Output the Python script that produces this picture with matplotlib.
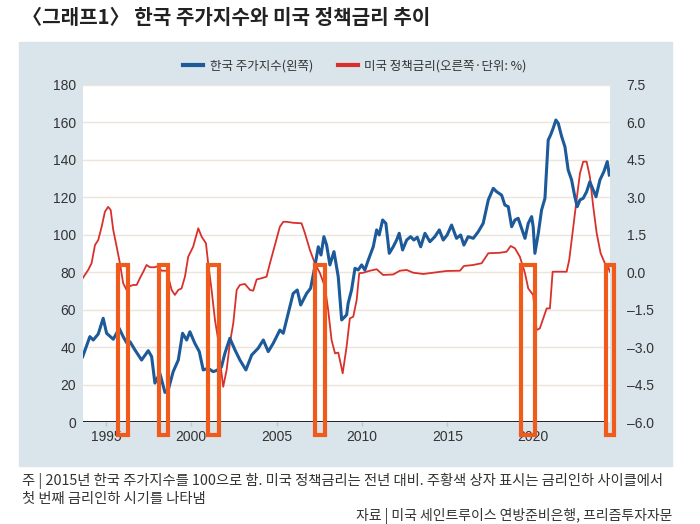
import matplotlib
matplotlib.use("Agg")
import matplotlib.pyplot as plt
from matplotlib.patches import Rectangle
from matplotlib.lines import Line2D

plt.rcParams['font.family'] = ['Noto Sans CJK KR', 'DejaVu Sans']

# 한국 주가지수 (2015년 = 100), 왼쪽 축
kospi_year = [1993.64, 1994.06, 1994.26, 1994.55, 1994.84, 1995.04, 1995.43, 1995.78,
              1996.01, 1996.21, 1996.41, 1996.70, 1997.09, 1997.48, 1997.68, 1997.87,
              1998.16, 1998.46, 1998.65, 1998.94, 1999.24, 1999.49, 1999.73, 1999.92,
              2000.21, 2000.47, 2000.70, 2000.99, 2001.28, 2001.48, 2001.77, 2001.97,
              2002.26, 2002.56, 2002.85, 2003.20, 2003.54, 2003.92, 2004.22, 2004.51,
              2004.80, 2005.19, 2005.39, 2005.68, 2005.97, 2006.21, 2006.41, 2006.76,
              2006.99, 2007.24, 2007.44, 2007.60, 2007.77, 2007.93, 2008.12, 2008.36,
              2008.61, 2008.81, 2009.10, 2009.19, 2009.39, 2009.59, 2009.78, 2009.98,
              2010.17, 2010.37, 2010.66, 2010.86, 2011.01, 2011.21, 2011.40, 2011.60,
              2011.83, 2012.03, 2012.18, 2012.38, 2012.62, 2012.85, 2013.04, 2013.24,
              2013.44, 2013.69, 2013.98, 2014.27, 2014.53, 2014.76, 2014.99, 2015.25,
              2015.54, 2015.78, 2015.97, 2016.22, 2016.52, 2016.81, 2017.10, 2017.40,
              2017.69, 2017.89, 2018.18, 2018.37, 2018.57, 2018.77, 2018.96, 2019.15,
              2019.35, 2019.55, 2019.74, 2019.94, 2020.03, 2020.13, 2020.33, 2020.52,
              2020.72, 2020.91, 2021.05, 2021.20, 2021.36, 2021.50, 2021.70, 2021.89,
              2022.08, 2022.28, 2022.47, 2022.61, 2022.77, 2022.96, 2023.16, 2023.35,
              2023.55, 2023.71, 2023.94, 2024.17, 2024.37, 2024.49]
kospi = [34.9, 45.6, 43.8, 47.0, 55.4, 47.4, 44.2, 50.0,
         45.6, 42.4, 42.9, 38.5, 33.1, 38.1, 34.9, 20.8,
         26.0, 15.8, 17.1, 26.9, 33.1, 47.4, 43.8, 48.2,
         42.0, 37.6, 27.8, 28.7, 26.9, 27.5, 29.5, 36.7,
         44.7, 38.5, 33.1, 27.8, 35.8, 39.4, 43.8, 37.6,
         42.0, 49.1, 47.4, 58.1, 68.7, 70.5, 62.5, 68.7,
         71.4, 83.0, 93.6, 89.2, 99.0, 94.5, 83.9, 91.0,
         77.6, 54.5, 57.2, 63.4, 70.5, 82.1, 81.2, 83.9,
         81.2, 86.5, 93.6, 102.6, 99.9, 107.9, 106.1, 90.1,
         93.6, 97.2, 100.8, 91.9, 97.2, 99.0, 97.2, 98.7,
         93.6, 100.8, 96.3, 99.0, 102.6, 97.2, 99.9, 105.2,
         98.1, 99.9, 94.5, 99.0, 98.1, 101.6, 106.1, 118.6,
         124.8, 123.0, 121.2, 115.9, 115.0, 104.3, 107.9, 108.8,
         103.5, 98.1, 106.1, 109.7, 104.3, 90.1, 100.8, 113.2,
         119.5, 150.6, 153.3, 156.9, 161.3, 159.5, 152.4, 147.0,
         134.6, 129.3, 120.3, 115.0, 118.6, 119.5, 123.0, 128.3,
         123.9, 120.3, 129.3, 133.7, 139.1, 131.9]

# 미국 정책금리 전년 대비 변화 (%p), 오른쪽 축
rate_year = [1993.64, 1993.96, 1994.16, 1994.36, 1994.55, 1994.75, 1994.94, 1995.13,
             1995.28, 1995.43, 1995.63, 1995.82, 1996.01, 1996.21, 1996.31, 1996.60,
             1996.80, 1996.99, 1997.19, 1997.38, 1997.58, 1997.87, 1998.06, 1998.26,
             1998.56, 1998.85, 1999.04, 1999.24, 1999.43, 1999.63, 1999.82, 2000.11,
             2000.41, 2000.61, 2000.86, 2000.99, 2001.19, 2001.39, 2001.58, 2001.68,
             2001.87, 2002.07, 2002.26, 2002.46, 2002.66, 2002.85, 2003.14, 2003.44,
             2003.63, 2003.83, 2004.12, 2004.41, 2004.61, 2004.90, 2005.19, 2005.39,
             2005.59, 2005.97, 2006.46, 2006.66, 2006.95, 2007.24, 2007.54, 2007.83,
             2008.02, 2008.22, 2008.42, 2008.61, 2008.77, 2008.87, 2009.10, 2009.29,
             2009.49, 2009.69, 2009.84, 2010.07, 2010.47, 2010.86, 2011.24, 2011.83,
             2012.22, 2012.62, 2013.00, 2013.59, 2014.17, 2014.96, 2015.74, 2015.97,
             2016.52, 2017.01, 2017.40, 2018.08, 2018.47, 2018.71, 2018.96, 2019.25,
             2019.55, 2019.74, 2020.03, 2020.23, 2020.42, 2020.62, 2020.82, 2021.01,
             2021.17, 2021.60, 2021.99, 2022.14, 2022.38, 2022.57, 2022.77, 2022.96,
             2023.16, 2023.35, 2023.55, 2023.75, 2023.98, 2024.23, 2024.42, 2024.52]
rate_chg = [-0.24, 0.09, 0.36, 1.09, 1.29, 1.82, 2.42, 2.62,
            2.49, 1.69, 1.02, 0.36, -0.44, -0.71, -0.58, -0.51,
            -0.51, -0.24, 0.02, 0.29, 0.20, 0.20, 0.25, 0.06,
            0.06, -0.71, -0.91, -0.71, -0.65, -0.18, 0.62, 1.02,
            1.76, 1.42, 1.16, 0.36, -0.71, -1.92, -2.72, -3.52,
            -4.59, -3.92, -2.85, -2.05, -0.71, -0.51, -0.47, -0.71,
            -0.74, -0.29, -0.24, -0.18, 0.36, 1.09, 1.82, 2.02,
            2.02, 1.98, 1.96, 1.56, 0.89, 0.36, -0.04, -0.58,
            -1.51, -2.72, -3.25, -3.22, -3.72, -4.05, -2.98, -1.85,
            -1.78, -1.11, -0.04, -0.02, 0.06, 0.12, -0.11, -0.09,
            0.06, 0.09, -0.02, -0.07, -0.02, 0.05, 0.06, 0.25,
            0.29, 0.36, 0.76, 0.78, 0.82, 1.05, 0.96, 0.62,
            -0.04, -0.65, -0.91, -2.32, -2.25, -1.85, -1.45, -1.45,
            0.02, 0.02, 0.02, 0.49, 1.82, 2.89, 3.96, 4.43,
            4.43, 3.83, 2.62, 1.56, 0.76, 0.36, 0.22, 0.02]

# 금리인하 사이클의 첫 번째 인하 시기 (주황색 상자)
cut_start = [1995.69, 1998.09, 2000.98, 2007.23, 2019.31, 2024.31]
cut_end = [1996.29, 1998.63, 2001.60, 2007.85, 2020.11, 2024.76]

left_ticks = [0, 20, 40, 60, 80, 100, 120, 140, 160, 180]
right_ticks = [-6.0, -4.5, -3.0, -1.5, 0.0, 1.5, 3.0, 4.5, 6.0, 7.5]
year_ticks = [1995, 2000, 2005, 2010, 2015, 2020]

blue = '#1c5a9a'
red = '#d8312c'
orange = '#f05a1a'
panel = '#d9e4eb'
num_font = ['Liberation Sans Narrow', 'Liberation Sans', 'DejaVu Sans']

fig = plt.figure(figsize=(7, 5.24), dpi=100)
fig.patches.append(Rectangle((19 / 700, 1 - 466 / 524), 653 / 700, 424 / 524,
                             transform=fig.transFigure, color=panel, zorder=-5))

ax1 = fig.add_axes([82.7 / 700, 1 - 422 / 524, 527.3 / 700, 337 / 524])
ax2 = ax1.twinx()
ax2.set_zorder(1)
ax1.set_zorder(2)
ax1.patch.set_visible(False)
ax2.patch.set_visible(True)
ax2.patch.set_facecolor('white')

ax1.set_xlim(1993.64, 2024.53)
ax1.set_ylim(0, 180)
ax2.set_ylim(-6, 7.5)

for v in right_ticks[1:]:
    ax2.axhline(v, color='#eee5da', lw=1, zorder=0)
ax1.hlines(0, 1993.64, 2024.25, color='#222222', lw=1.4, zorder=3)

ax2.plot(rate_year, rate_chg, color=red, lw=1.3, zorder=2)
ax1.plot(kospi_year, kospi, color=blue, lw=2.2, zorder=4)

for s, e in zip(cut_start, cut_end):
    ax1.add_patch(Rectangle((s, -6.9), e - s, 90.8, fill=False, ec=orange,
                            lw=3, clip_on=False, zorder=6))

for a in (ax1, ax2):
    for sp in a.spines.values():
        sp.set_visible(False)

ax1.set_yticks(left_ticks)
ax1.set_yticklabels([str(v) for v in left_ticks])
ax1.tick_params(axis='y', length=0, pad=5, labelsize=10, labelcolor='#333333')
ax2.set_yticks(right_ticks)
ax2.set_yticklabels([f'{v:.1f}'.replace('-', '\u2013') for v in right_ticks])
ax2.tick_params(axis='y', length=0, pad=12, labelsize=10, labelcolor='#333333')
ax1.set_xticks(year_ticks)
ax1.set_xticklabels([str(y) for y in year_ticks])
ax1.tick_params(axis='x', length=3, width=1, color='#b7c9d6', pad=3,
                labelsize=10, labelcolor='#333333')
for lab in ax1.get_xticklabels() + ax1.get_yticklabels() + ax2.get_yticklabels():
    lab.set_fontfamily(num_font)

handles = [Line2D([], [], color=blue, lw=3), Line2D([], [], color=red, lw=3)]
fig.legend(handles, ['한국 주가지수(왼쪽)', '미국 정책금리(오른쪽·단위: %)'],
           loc='center', bbox_to_anchor=(355 / 700, 1 - 66 / 524), ncol=2,
           frameon=False, fontsize=9, handlelength=1.6, handletextpad=0.5,
           columnspacing=2.0, labelcolor='#333333')

fig.text(22 / 700, 1 - 17 / 524, '〈그래프1〉 한국 주가지수와 미국 정책금리 추이',
         fontsize=14.5, fontweight='bold', va='center', ha='left', color='#222222')
fig.text(22 / 700, 1 - 481 / 524,
         '주 | 2015년 한국 주가지수를 100으로 함. 미국 정책금리는 전년 대비. '
         '주황색 상자 표시는 금리인하 사이클에서',
         fontsize=10.3, va='center', ha='left', color='#333333')
fig.text(22 / 700, 1 - 499 / 524, '첫 번째 금리인하 시기를 나타냄',
         fontsize=10.3, va='center', ha='left', color='#333333')
fig.text(672 / 700, 1 - 516 / 524, '자료 | 미국 세인트루이스 연방준비은행, 프리즘투자자문',
         fontsize=10, va='center', ha='right', color='#333333')

fig.savefig('out.png', dpi=100)
